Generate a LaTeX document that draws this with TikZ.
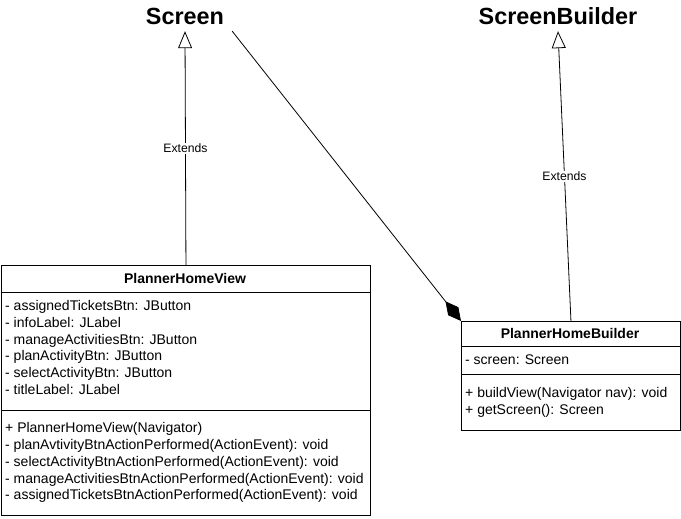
\documentclass[tikz,border=0pt]{standalone}
\usepackage{fontspec}
\setmainfont{Liberation Sans}
\usetikzlibrary{arrows.meta}
\begin{document}
\begin{tikzpicture}[x=1pt,y=-1pt,
  classbox/.style={draw,line width=0.9pt,anchor=north west,inner sep=0pt},
  member/.style={anchor=west,inner sep=0pt,text height=10pt,text depth=3pt,font=\fontsize{14}{16}\selectfont},
  cname/.style={font=\bfseries\fontsize{14}{16}\selectfont,inner sep=0pt,text height=10pt,text depth=3pt},
  title/.style={font=\bfseries\fontsize{23.4}{28}\selectfont,minimum height=30pt,inner xsep=8pt,inner ysep=0pt},
  extlabel/.style={fill=white,font=\fontsize{12.2}{14}\selectfont,inner sep=1pt},
  conn/.style={line width=0.8pt}]
\useasboundingbox (0,0) rectangle (681,519);
% titles
\node[title] (screen) at (185,16) {Screen};
\node[title] (sbuilder) at (558,16) {ScreenBuilder};
% PlannerHomeView
\node[classbox,minimum width=369pt,minimum height=250pt] (phv) at (1,265) {};
\node[cname] (phvname) at (185,280) {PlannerHomeView};
\draw[line width=0.9pt] (1,292) -- (370,292);
\draw[line width=0.9pt] (1,410) -- (370,410);
\node[member] (a1) at (5,307) {- assignedTicketsBtn: JButton};
\node[member] (a2) at (5,324) {- infoLabel: JLabel};
\node[member] (a3) at (5,341) {- manageActivitiesBtn: JButton};
\node[member] (a4) at (5,357) {- planActivityBtn: JButton};
\node[member] (a5) at (5,374) {- selectActivityBtn: JButton};
\node[member] (a6) at (5,391) {- titleLabel: JLabel};
\node[member] (m1) at (5,429) {+ PlannerHomeView(Navigator)};
\node[member] (m2) at (5,446) {- planAvtivityBtnActionPerformed(ActionEvent): void};
\node[member] (m3) at (5,463) {- selectActivityBtnActionPerformed(ActionEvent): void};
\node[member] (m4) at (5,480) {- manageActivitiesBtnActionPerformed(ActionEvent): void};
\node[member] (m5) at (5,496) {- assignedTicketsBtnActionPerformed(ActionEvent): void};
% PlannerHomeBuilder
\node[classbox,minimum width=219pt,minimum height=109pt] (phb) at (461,321) {};
\node[cname] (phbname) at (570,335) {PlannerHomeBuilder};
\draw[line width=0.9pt] (461,346) -- (680,346);
\draw[line width=0.9pt] (461,374) -- (680,374);
\node[member] (b1) at (465,361) {- screen: Screen};
\node[member] (b2) at (465,394) {+ buildView(Navigator nav): void};
\node[member] (b3) at (465,411) {+ getScreen(): Screen};
% connectors
\draw[conn,-{Triangle[open,length=17pt,width=14pt]}] (phv.north) -- node[extlabel] {Extends} (screen.south);
\draw[conn,-{Triangle[open,length=17pt,width=14pt]}] (phb.north) -- node[extlabel] {Extends} (sbuilder.south);
\draw[conn,-{Diamond[length=25pt,width=13pt]}] (screen.south east) -- (phb.north west);
\end{tikzpicture}
\end{document}
